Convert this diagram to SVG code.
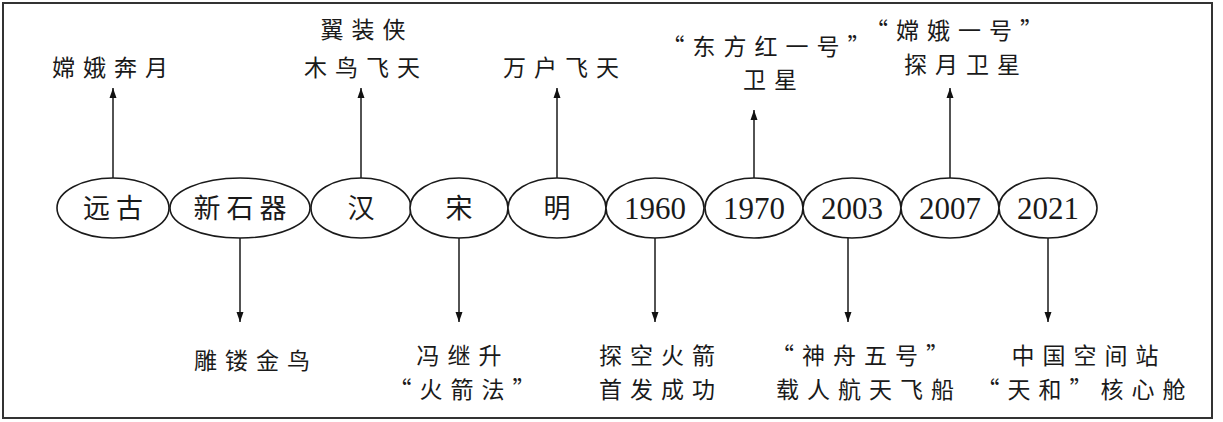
<svg xmlns="http://www.w3.org/2000/svg" width="1223" height="422" viewBox="0 0 1223 422">
<defs>
<marker id="ah" viewBox="0 0 10 10" refX="10" refY="5" markerWidth="10" markerHeight="10" markerUnits="userSpaceOnUse" orient="auto">
<path d="M0,1.5 L10,5 L0,8.5 Z" fill="#111"/>
</marker>
<style>
.el{fill:#fff;stroke:#1a1a1a;stroke-width:1.6}
.cn{font-family:"Noto Sans CJK SC","Noto Sans CJK JP",sans-serif;font-size:23px;fill:#1a1a1a;text-anchor:middle;letter-spacing:8px}
.nm{font-family:"Liberation Serif",serif;font-size:31px;fill:#1a1a1a;text-anchor:middle}
.nc{font-family:"Noto Sans CJK SC",sans-serif;font-size:27px;fill:#1a1a1a;text-anchor:middle;letter-spacing:6px}
.ln{stroke:#1a1a1a;stroke-width:1.5;fill:none;marker-end:url(#ah)}
</style>
</defs>
<rect x="0" y="0" width="1223" height="422" fill="#fff"/>
<rect x="3" y="3" width="1209" height="415" fill="none" stroke="#333" stroke-width="2"/>
<g id="connectors">
<line class="ln" x1="113" y1="178" x2="113" y2="88"/>
<line class="ln" x1="361" y1="178" x2="361" y2="88"/>
<line class="ln" x1="557" y1="178" x2="557" y2="88"/>
<line class="ln" x1="754" y1="178" x2="754" y2="110"/>
<line class="ln" x1="950" y1="178" x2="950" y2="88"/>
<line class="ln" x1="240" y1="238" x2="240" y2="322"/>
<line class="ln" x1="459" y1="238" x2="459" y2="322"/>
<line class="ln" x1="655" y1="238" x2="655" y2="322"/>
<line class="ln" x1="848" y1="238" x2="848" y2="322"/>
<line class="ln" x1="1048" y1="238" x2="1048" y2="322"/>
</g>
<g id="n-yuangu"><ellipse class="el" cx="113" cy="208" rx="56" ry="30"/><text class="nc" x="116" y="218">远古</text></g>
<g id="n-xinshiqi"><ellipse class="el" cx="240" cy="208" rx="70" ry="30"/><text class="nc" x="243" y="218">新石器</text></g>
<g id="n-han"><ellipse class="el" cx="361" cy="208" rx="50" ry="30"/><text class="nc" x="364" y="218">汉</text></g>
<g id="n-song"><ellipse class="el" cx="459" cy="208" rx="49" ry="30"/><text class="nc" x="462" y="218">宋</text></g>
<g id="n-ming"><ellipse class="el" cx="557" cy="208" rx="49" ry="30"/><text class="nc" x="560" y="218">明</text></g>
<g id="n-1960"><ellipse class="el" cx="655" cy="208" rx="49" ry="30"/><text class="nm" x="655" y="219">1960</text></g>
<g id="n-1970"><ellipse class="el" cx="754" cy="208" rx="49" ry="30"/><text class="nm" x="754" y="219">1970</text></g>
<g id="n-2003"><ellipse class="el" cx="852" cy="208" rx="49" ry="30"/><text class="nm" x="852" y="219">2003</text></g>
<g id="n-2007"><ellipse class="el" cx="950" cy="208" rx="49" ry="30"/><text class="nm" x="950" y="219">2007</text></g>
<g id="n-2021"><ellipse class="el" cx="1048" cy="208" rx="49" ry="30"/><text class="nm" x="1048" y="219">2021</text></g>
<g id="t-change"><text class="cn" x="114" y="76">嫦娥奔月</text></g>
<g id="t-muniao"><text class="cn" x="367" y="38">翼装侠</text><text class="cn" x="366" y="76">木鸟飞天</text></g>
<g id="t-wanhu"><text class="cn" x="565" y="76">万户飞天</text></g>
<g id="t-dfh"><text class="cn" x="770" y="55">“东方红一号”</text><text class="cn" x="774" y="88">卫星</text></g>
<g id="t-ce1"><text class="cn" x="958" y="39">“嫦娥一号”</text><text class="cn" x="966" y="73">探月卫星</text></g>
<g id="t-diaolou"><text class="cn" x="256" y="369">雕镂金鸟</text></g>
<g id="t-feng"><text class="cn" x="463" y="364">冯继升</text><text class="cn" x="466" y="398">“火箭法”</text></g>
<g id="t-tankong"><text class="cn" x="661" y="364">探空火箭</text><text class="cn" x="661" y="398">首发成功</text></g>
<g id="t-sz5"><text class="cn" x="864" y="364">“神舟五号”</text><text class="cn" x="869" y="398">载人航天飞船</text></g>
<g id="t-tianhe"><text class="cn" x="1089" y="364">中国空间站</text><text class="cn" x="1085" y="398">“天和”核心舱</text></g>
</svg>
